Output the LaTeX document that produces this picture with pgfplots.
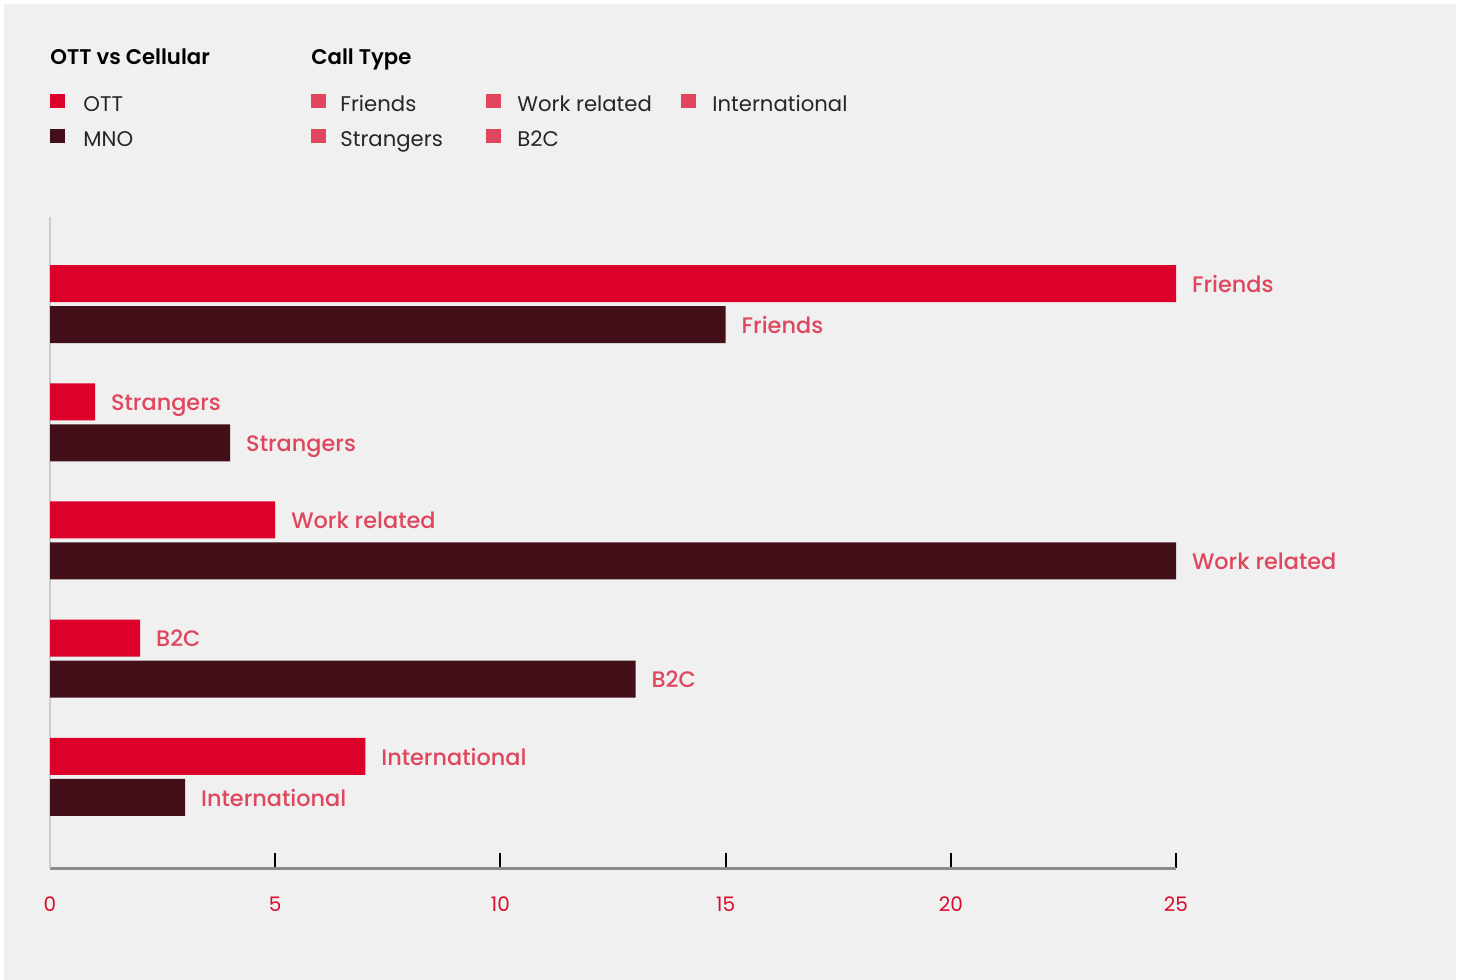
\documentclass[border=0pt]{standalone}
\usepackage{fontspec}
\setmainfont{Poppins}
\newfontfamily\medfont{Poppins Medium}
\newfontfamily\semifont{Poppins SemiBold}
\usepackage{pgfplots}
\usepackage{pgfplotstable}
\pgfplotsset{compat=1.18}
\definecolor{bg}{HTML}{F0F0F0}
\definecolor{ott}{HTML}{DC002B}
\definecolor{mno}{HTML}{43101A}
\definecolor{lab}{HTML}{E0475E}
\definecolor{tick}{HTML}{DC0A2D}
\pgfplotstableread{
y x label
0 25 Friends
1 1 Strangers
2 5 {Work related}
3 2 B2C
4 7 International
}\ott
\pgfplotstableread{
y x label
0 15 Friends
1 4 Strangers
2 25 {Work related}
3 13 B2C
4 3 International
}\mno
\begin{document}
\begin{tikzpicture}
\fill[white] (0,0) rectangle (732pt,490pt);
\fill[bg] (2pt,0) rectangle (728pt,488pt);
% legend
\node[anchor=base west,inner sep=0pt,font=\semifont\fontsize{10.6}{12}\selectfont] at (25pt,457.5pt) {OTT vs Cellular};
\node[anchor=base west,inner sep=0pt,font=\semifont\fontsize{10.6}{12}\selectfont] at (155.5pt,457.5pt) {Call Type};
\begin{scope}[every node/.style={anchor=base west,font=\fontsize{10.6}{12}\selectfont,text=black!85,inner sep=0pt}]
\fill[ott] (25pt,436pt) rectangle (32.5pt,443pt); \node at (41.5pt,434pt) {OTT};
\fill[mno] (25pt,418.5pt) rectangle (32.5pt,425.5pt); \node at (41.5pt,416.5pt) {MNO};
\fill[lab] (155.5pt,436pt) rectangle (163pt,443pt); \node at (170pt,434pt) {Friends};
\fill[lab] (155.5pt,418.5pt) rectangle (163pt,425.5pt); \node at (170pt,416.5pt) {Strangers};
\fill[lab] (243pt,436pt) rectangle (250.5pt,443pt); \node at (258.5pt,434pt) {Work related};
\fill[lab] (243pt,418.5pt) rectangle (250.5pt,425.5pt); \node at (258.5pt,416.5pt) {B2C};
\fill[lab] (340.5pt,436pt) rectangle (348pt,443pt); \node at (356pt,434pt) {International};
\end{scope}
\begin{axis}[
  at={(25pt,56pt)}, anchor=south west,
  scale only axis, width=563pt, height=325.5pt,
  xmin=0, xmax=25, ymin=-0.736, ymax=4.77,
  y dir=reverse,
  clip=false,
  axis x line*=bottom, axis y line*=left,
  x axis line style={draw=black!45,line width=1.5pt,-},
  y axis line style={draw=black!20,line width=1pt,-},
  xtick={5,10,...,25},
  extra x ticks={0},
  extra x tick style={major tick length=0pt},
  ytick=\empty,
  tick align=inside,
  major tick length=7.5pt,
  tick style={black,line width=1pt},
  xticklabel style={text=tick,font=\fontsize{10}{12}\selectfont,yshift=-11pt},
  /pgf/number format/assume math mode=true,
  xbar, bar width=0.313,
  point meta=explicit symbolic,
  nodes near coords,
  nodes near coords align={horizontal},
  every node near coord/.append style={anchor=base west,text=lab,font=\medfont\fontsize{11.2}{13}\selectfont,xshift=4.5pt,yshift=-4.3pt},
]
\addplot[fill=ott,draw=none,bar shift=-0.1734] table[x=x,y=y,meta=label]{\ott};
\addplot[fill=mno,draw=none,bar shift=0.1734] table[x=x,y=y,meta=label]{\mno};
\end{axis}
\end{tikzpicture}
\end{document}
